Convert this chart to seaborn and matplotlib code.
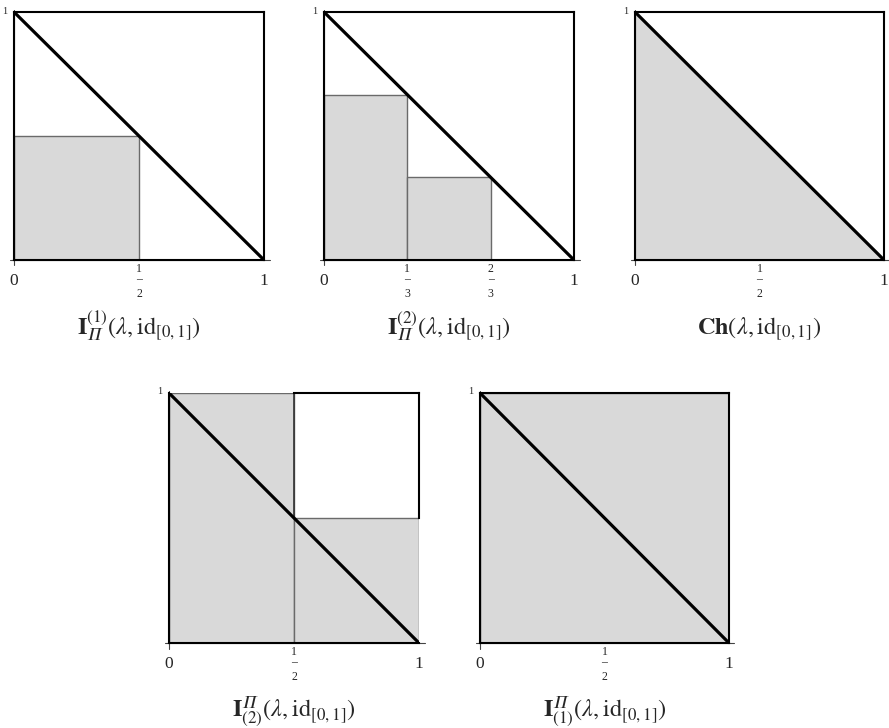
import matplotlib
matplotlib.use("Agg")
import matplotlib.pyplot as plt
from matplotlib.transforms import offset_copy
import seaborn as sns

sns.set_style("white")
plt.rcParams["font.family"] = ["Liberation Serif", "DejaVu Serif"]
plt.rcParams["mathtext.fontset"] = "stix"

# ─── DATA ────────────────────────────────────────────────────────────────────
# diagonal lambda(x) = 1 - x on [0,1]
diag_x = [0, 1]
diag_y = [1, 0]

# step approximations: bin edges and heights
p1_edges, p1_heights = [0, 1/2], [1/2]
p2_edges, p2_heights = [0, 1/3, 2/3], [2/3, 1/3]
p4_edges, p4_heights = [0, 1/2, 1], [1, 1/2]
p5_edges, p5_heights = [0, 1], [1]

# tick labels: plain string or (numerator, denominator)
p1_ticks, p1_labels = [0, 1/2, 1], ["0", ("1", "2"), "1"]
p2_ticks, p2_labels = [0, 1/3, 2/3, 1], ["0", ("1", "3"), ("2", "3"), "1"]

titles = [
    r"$\mathbf{I}_{𝛱}^{(1)}(\lambda,\mathrm{id}_{[0,1]})$",
    r"$\mathbf{I}_{𝛱}^{(2)}(\lambda,\mathrm{id}_{[0,1]})$",
    r"$\mathbf{Ch}(\lambda,\mathrm{id}_{[0,1]})$",
    r"$\mathbf{I}_{(2)}^{𝛱}(\lambda,\mathrm{id}_{[0,1]})$",
    r"$\mathbf{I}_{(1)}^{𝛱}(\lambda,\mathrm{id}_{[0,1]})$",
]

FILL = "#d9d9d9"
EDGE = "#6a6a6a"

W, H = 889, 728
fig = plt.figure(figsize=(W / 100, H / 100), dpi=100)


def panel(left, top, w, h):
    ax = fig.add_axes([left / W, (H - top - h) / H, w / W, h / H])
    ax.set_xlim(0, 1)
    ax.set_ylim(0, 1)
    for s in ax.spines.values():
        s.set_visible(False)
    ax.set_facecolor("none")
    return ax


def steps(ax, edges, heights):
    centers = [(a + b) / 2 for a, b in zip(edges[:-1], edges[1:])]
    sns.histplot(x=centers, weights=heights, bins=edges, stat="count",
                 color=FILL, edgecolor=EDGE, linewidth=1.0, alpha=1, ax=ax, zorder=1)
    ax.set_xlabel("")
    ax.set_ylabel("")


def off(ax, dy, dx=0):
    return offset_copy(ax.transData, fig=fig, x=dx, y=dy, units="dots")


def frame(ax, ticks, labels, title, top_from=0.0, right_from=0.0):
    # thin axis lines
    ax.axhline(0, xmin=-0.018, xmax=1.022, color="#444444", lw=0.8, clip_on=False, zorder=2)
    ax.axvline(0, ymin=-0.022, ymax=1.01, color="#444444", lw=0.8, clip_on=False, zorder=2)
    # thick box
    kw = dict(color="black", lw=1.5, solid_capstyle="projecting", clip_on=False, zorder=3)
    ax.axhline(0, **kw)
    ax.axvline(0, **kw)
    ax.axhline(1, xmin=top_from, **kw)
    ax.axvline(1, ymin=right_from, **kw)
    # diagonal
    sns.lineplot(x=diag_x, y=diag_y, color="black", lw=2.3, ax=ax, zorder=4)
    ax.set_xticks(ticks)
    ax.set_yticks([1])
    ax.tick_params(axis="both", direction="in", length=3, width=0.8,
                   colors="#444444", labelbottom=False, labelleft=False)
    for t, s in zip(ticks, labels):
        if isinstance(s, tuple):
            # numerator with fraction bar, then denominator well below
            ax.text(t, 0, s[0] + "\n\u2013", transform=off(ax, -14), ha="center",
                    va="center", fontsize=8.5, linespacing=0.75)
            ax.text(t, 0, s[1], transform=off(ax, -34), ha="center", va="center", fontsize=8.5)
        else:
            ax.text(t, 0, s, transform=off(ax, -21), ha="center", va="center", fontsize=12.5)
    ax.text(0, 1, "1", transform=off(ax, 1, -9), ha="center", va="center", fontsize=7.5)
    tt = offset_copy(ax.transAxes, fig=fig, x=0, y=-74, units="dots")
    ax.text(0.5, 0, title, transform=tt, ha="center", va="baseline", fontsize=17.5)


# top row
ax1 = panel(14, 12, 250, 248)
steps(ax1, p1_edges, p1_heights)
frame(ax1, p1_ticks, p1_labels, titles[0])

ax2 = panel(324, 12, 250, 248)
steps(ax2, p2_edges, p2_heights)
frame(ax2, p2_ticks, p2_labels, titles[1])

ax3 = panel(635, 12, 249, 248)
ax3.fill_between(diag_x, diag_y, 0, color=FILL, lw=0, zorder=1)
frame(ax3, p1_ticks, p1_labels, titles[2])

# bottom row
ax4 = panel(169, 393, 250, 250)
steps(ax4, p4_edges, p4_heights)
frame(ax4, p1_ticks, p1_labels, titles[3],
      top_from=p4_edges[1], right_from=p4_heights[1])
ax4.axvline(p4_edges[1], ymin=p4_heights[1], color="#333333", lw=1.2, zorder=2)

ax5 = panel(480, 393, 249, 250)
steps(ax5, p5_edges, p5_heights)
frame(ax5, p1_ticks, p1_labels, titles[4])

fig.savefig("out.png", dpi=100)
